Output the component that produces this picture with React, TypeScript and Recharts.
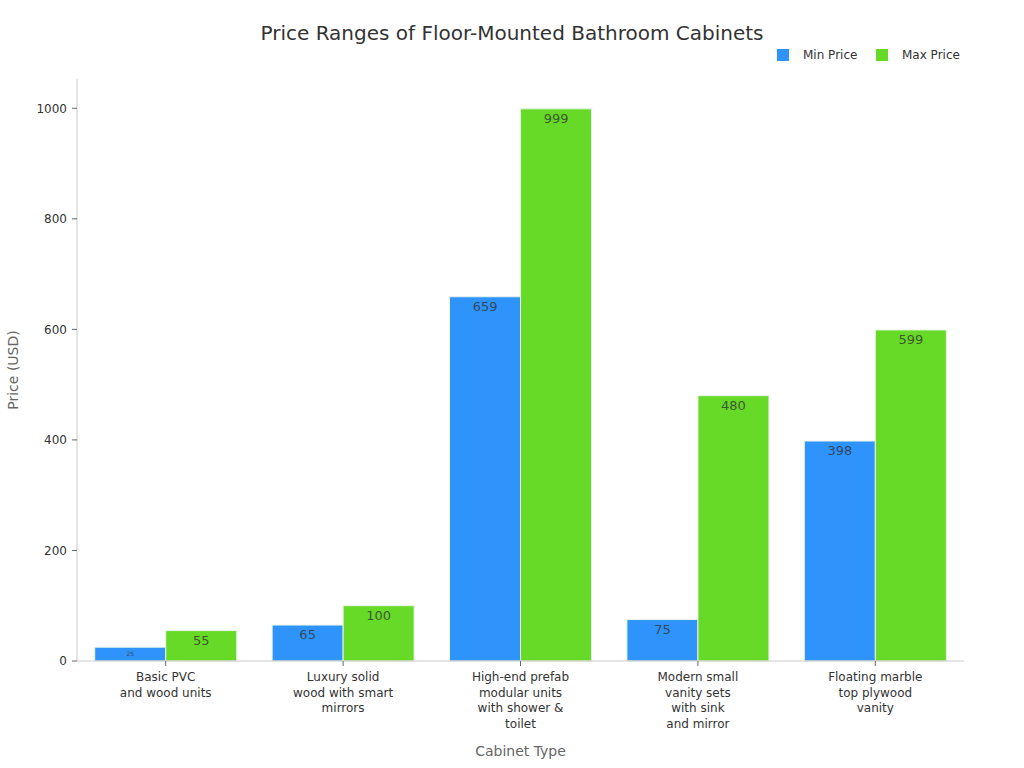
import React from "react";
import { BarChart, Bar, XAxis, YAxis, Legend, LabelList } from "recharts";

const categories = [
  "Basic PVC\nand wood units",
  "Luxury solid\nwood with smart\nmirrors",
  "High-end prefab\nmodular units\nwith shower &\ntoilet",
  "Modern small\nvanity sets\nwith sink\nand mirror",
  "Floating marble\ntop plywood\nvanity",
];
const minPrice = [25, 65, 659, 75, 398];
const maxPrice = [55, 100, 999, 480, 599];
const yTicks = [0, 200, 400, 600, 800, 1000];

const rows = categories.map((name, i) => ({ name, min: minPrice[i], max: maxPrice[i] }));

const FONT = "'DejaVu Sans', sans-serif";
const MIN_COLOR = "#2E93FA";
const MAX_COLOR = "#66DA26";

// category labels are wrapped by hand, one tspan per line
function CategoryTick({ x, y, payload }: any) {
  const lines = String(payload.value).split("\n");
  return (
    <text x={x} y={y} textAnchor="middle" fontFamily={FONT} fontSize={12} fill="#333">
      {lines.map((l, i) => (
        <tspan key={i} x={x} y={y + 13 + i * 15.7}>
          {l}
        </tspan>
      ))}
    </text>
  );
}

// the 25 label is squeezed down in the original, the bar is too short for it
function ValueLabel({ x, y, width, value }: any) {
  const tiny = value === 25;
  return (
    <text
      x={x + width / 2}
      y={y + (tiny ? 8.5 : 14)}
      textAnchor="middle"
      fontFamily={FONT}
      fontSize={tiny ? 6 : 13}
      fill="#333"
      fillOpacity={0.8}
    >
      {value}
    </text>
  );
}

function LegendRow() {
  const items = [
    { label: "Min Price", color: MIN_COLOR, w: 99 },
    { label: "Max Price", color: MAX_COLOR, w: 90 },
  ];
  return (
    <div style={{ display: "flex", fontFamily: FONT, fontSize: 12, color: "#333" }}>
      {items.map((it) => (
        <div key={it.label} style={{ display: "flex", alignItems: "center", width: it.w }}>
          <span style={{ width: 12, height: 12, background: it.color, marginRight: 14 }} />
          {it.label}
        </div>
      ))}
    </div>
  );
}

export default function App() {
  return (
    <div style={{ position: "absolute", left: 0, top: 0, width: 1024, height: 768, background: "#fff" }}>
      <div
        style={{
          position: "absolute",
          left: 0,
          width: 1024,
          top: 21,
          textAlign: "center",
          fontFamily: FONT,
          fontSize: 20,
          color: "#333",
        }}
      >
        Price Ranges of Floor-Mounted Bathroom Cabinets
      </div>
      <BarChart
        width={1024}
        height={768}
        data={rows}
        margin={{ top: 65, right: 60, bottom: 0, left: 0 }}
        barCategoryGap="10%"
        barGap={0}
      >
        <XAxis
          dataKey="name"
          height={107}
          interval={0}
          tick={<CategoryTick />}
          stroke="#ccc"
          tickLine={{ stroke: "#666" }}
          tickSize={5}
          label={{
            value: "Cabinet Type",
            position: "insideBottom",
            offset: 12,
            style: { fontFamily: FONT, fontSize: 14, fill: "#666" },
          }}
        />
        <YAxis
          width={77}
          domain={[0, 1053]}
          ticks={yTicks}
          tick={{ fontFamily: FONT, fontSize: 12, fill: "#333" }}
          stroke="#ccc"
          tickLine={{ stroke: "#666" }}
          tickSize={5}
          tickMargin={5}
          label={{
            value: "Price (USD)",
            angle: -90,
            position: "insideLeft",
            offset: 13,
            style: { fontFamily: FONT, fontSize: 14, fill: "#666", textAnchor: "middle" },
          }}
        />
        <Legend
          verticalAlign="top"
          align="right"
          wrapperStyle={{ position: "absolute", left: 777, top: 48, width: 200 }}
          content={<LegendRow />}
        />
        <Bar dataKey="min" name="Min Price" fill={MIN_COLOR} stroke="#e8f3e8" strokeWidth={1} isAnimationActive={false}>
          <LabelList dataKey="min" content={<ValueLabel />} />
        </Bar>
        <Bar dataKey="max" name="Max Price" fill={MAX_COLOR} stroke="#e8f3e8" strokeWidth={1} isAnimationActive={false}>
          <LabelList dataKey="max" content={<ValueLabel />} />
        </Bar>
      </BarChart>
    </div>
  );
}
